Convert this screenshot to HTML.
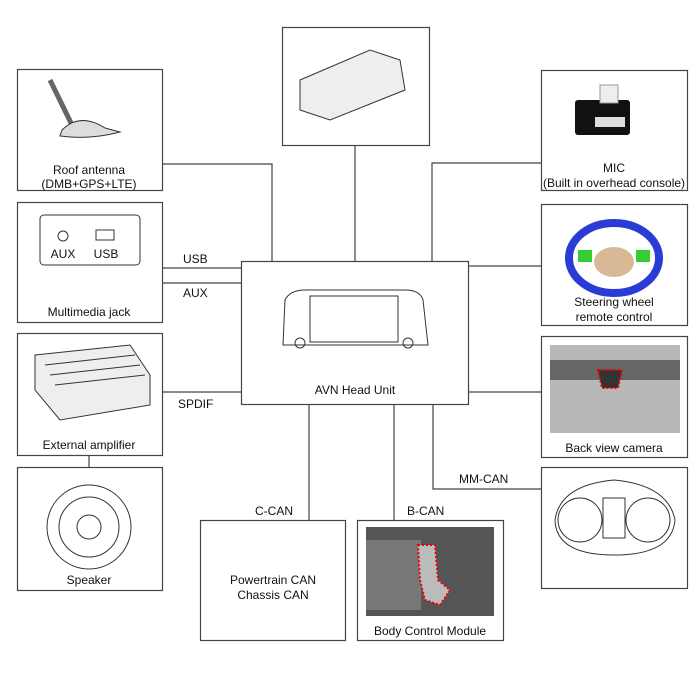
<!DOCTYPE html>
<html><head><meta charset="utf-8"><style>
body{margin:0;background:#fff;}
svg text{font-family:"Liberation Sans",sans-serif;font-size:12px;fill:#111;}
</style></head><body>
<svg width="700" height="671" viewBox="0 0 700 671" xmlns="http://www.w3.org/2000/svg">
<g fill="none" stroke="#444" stroke-width="1.2">
<!-- boxes -->
<rect x="17.5" y="69.5" width="145" height="121"/>
<rect x="17.5" y="202.5" width="145" height="120"/>
<rect x="17.5" y="333.5" width="145" height="122"/>
<rect x="17.5" y="467.5" width="145" height="123"/>
<rect x="282.5" y="27.5" width="147" height="118"/>
<rect x="541.5" y="70.5" width="146" height="120"/>
<rect x="541.5" y="204.5" width="146" height="121"/>
<rect x="541.5" y="336.5" width="146" height="121"/>
<rect x="541.5" y="467.5" width="146" height="121"/>
<rect x="241.5" y="261.5" width="227" height="143"/>
<rect x="200.5" y="520.5" width="145" height="120"/>
<rect x="357.5" y="520.5" width="146" height="120"/>
<!-- connectors -->
<polyline points="162,164 272,164 272,261"/>
<line x1="355" y1="145" x2="355" y2="261"/>
<polyline points="541,163 432,163 432,261"/>
<line x1="468" y1="266" x2="541" y2="266"/>
<line x1="162" y1="268" x2="241" y2="268"/>
<line x1="162" y1="283" x2="241" y2="283"/>
<line x1="162" y1="392" x2="241" y2="392"/>
<line x1="468" y1="392" x2="541" y2="392"/>
<line x1="89" y1="455" x2="89" y2="467"/>
<line x1="309" y1="404" x2="309" y2="520"/>
<line x1="394" y1="404" x2="394" y2="520"/>
<polyline points="433,404 433,489 541,489"/>
</g>
<!-- labels -->
<text x="89" y="174" text-anchor="middle">Roof  antenna</text>
<text x="89" y="188" text-anchor="middle" font-size="11">(DMB+GPS+LTE)</text>
<text x="89" y="316" text-anchor="middle">Multimedia jack</text>
<text x="89" y="449" text-anchor="middle">External amplifier</text>
<text x="89" y="584" text-anchor="middle">Speaker</text>
<text x="614" y="172" text-anchor="middle">MIC</text>
<text x="614" y="187" text-anchor="middle" font-size="11">(Built in overhead console)</text>
<text x="614" y="306" text-anchor="middle">Steering wheel</text>
<text x="614" y="321" text-anchor="middle">remote control</text>
<text x="614" y="452" text-anchor="middle">Back view camera</text>
<text x="355" y="394" text-anchor="middle">AVN Head Unit</text>
<text x="273" y="584" text-anchor="middle">Powertrain CAN</text>
<text x="273" y="599" text-anchor="middle">Chassis CAN</text>
<text x="430" y="635" text-anchor="middle">Body Control Module</text>
<text x="183" y="263">USB</text>
<text x="183" y="297">AUX</text>
<text x="178" y="408">SPDIF</text>
<text x="255" y="515">C-CAN</text>
<text x="407" y="515">B-CAN</text>
<text x="459" y="483">MM-CAN</text>
<!-- icons -->
<g fill="none" stroke="#333" stroke-width="1">
<!-- antenna -->
<path d="M50 80 L72 125" stroke-width="5" stroke="#666"/>
<path d="M62 130 Q80 112 105 128 L120 132 Q90 140 60 136 Z" fill="#ddd"/>
<!-- jack -->
<rect x="40" y="215" width="100" height="50" rx="4"/>
<circle cx="63" cy="236" r="5"/>
<rect x="96" y="230" width="18" height="10"/>
<text x="63" y="258" text-anchor="middle" font-size="8" fill="#999" stroke="none">AUX</text>
<text x="106" y="258" text-anchor="middle" font-size="8" fill="#999" stroke="none">USB</text>
<!-- amp -->
<path d="M35 355 L130 345 L150 375 L150 405 L60 420 L35 390 Z" fill="#eee"/>
<path d="M45 365 L135 355 M50 375 L140 365 M55 385 L145 375"/>
<!-- speaker -->
<circle cx="89" cy="527" r="42"/>
<circle cx="89" cy="527" r="30"/>
<circle cx="89" cy="527" r="12"/>
<!-- top unit -->
<path d="M300 80 L370 50 L400 60 L405 90 L330 120 L300 110 Z" fill="#eee"/>
<!-- head unit -->
<path d="M285 300 Q290 290 305 290 L405 290 Q420 290 423 300 L428 345 L283 345 Z"/>
<rect x="310" y="296" width="88" height="46"/>
<circle cx="300" cy="343" r="5"/><circle cx="408" cy="343" r="5"/>
</g>
<!-- MIC -->
<rect x="575" y="100" width="55" height="35" rx="3" fill="#111"/>
<rect x="600" y="85" width="18" height="18" fill="#eee" stroke="#999"/>
<rect x="595" y="117" width="30" height="10" fill="#ddd"/>
<!-- steering -->
<ellipse cx="614" cy="258" rx="45" ry="35" fill="none" stroke="#2a3bd6" stroke-width="8"/>
<ellipse cx="614" cy="262" rx="20" ry="15" fill="#d9b995"/>
<rect x="578" y="250" width="14" height="12" fill="#3c3"/><rect x="636" y="250" width="14" height="12" fill="#3c3"/>
<!-- camera -->
<rect x="550" y="345" width="130" height="88" fill="#b8b8b8"/>
<rect x="550" y="360" width="130" height="20" fill="#666"/>
<path d="M598 370 L622 370 L618 388 L602 388 Z" fill="#333" stroke="#e00" stroke-dasharray="2,2" stroke-width="2"/>
<!-- cluster -->
<g fill="none" stroke="#333" stroke-width="1">
<path d="M555 520 Q560 485 614 480 Q668 485 675 520 Q672 555 614 555 Q556 555 555 520 Z"/>
<circle cx="580" cy="520" r="22"/><circle cx="648" cy="520" r="22"/>
<rect x="603" y="498" width="22" height="40"/>
</g>
<!-- BCM photo -->
<rect x="366" y="527" width="128" height="89" fill="#555"/>
<rect x="366" y="540" width="55" height="70" fill="#777"/>
<path d="M418 545 L435 545 L438 580 L450 590 L440 605 L425 600 L420 580 Z" fill="#bbb" stroke="#e00" stroke-dasharray="2,2" stroke-width="2"/>
</svg>
</body></html>
